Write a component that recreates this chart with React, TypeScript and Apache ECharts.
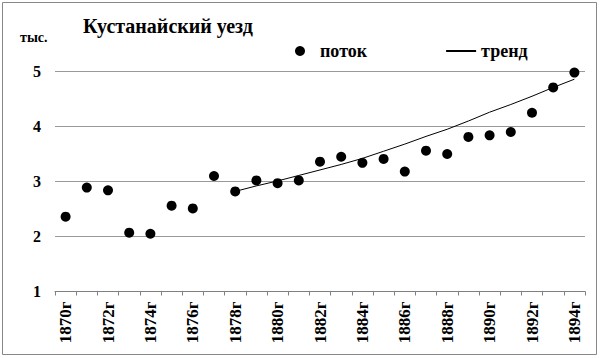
import React, { useEffect, useRef } from "react";
import * as echarts from "echarts";

const years: string[] = [
  "1870г", "1871г", "1872г", "1873г", "1874г", "1875г", "1876г", "1877г", "1878г",
  "1879г", "1880г", "1881г", "1882г", "1883г", "1884г", "1885г", "1886г", "1887г",
  "1888г", "1889г", "1890г", "1891г", "1892г", "1893г", "1894г",
];
const flow: number[] = [
  2.36, 2.89, 2.84, 2.07, 2.05, 2.56, 2.51, 3.1, 2.82, 3.02, 2.97, 3.02, 3.36,
  3.45, 3.34, 3.41, 3.18, 3.56, 3.5, 3.81, 3.84, 3.9, 4.25, 4.71, 4.98,
];
const trend: (number | null)[] = [
  null, null, null, null, null, null, null, null,
  2.82, 2.92, 3.01, 3.11, 3.21, 3.31, 3.42, 3.55, 3.68, 3.82, 3.95, 4.1, 4.26,
  4.4, 4.55, 4.71, 4.86,
];
const titleText = "Кустанайский уезд";
const unitText = "тыс.";

const SERIF = "Liberation Serif";

export default function App() {
  const ref = useRef<HTMLDivElement>(null);
  useEffect(() => {
    if (!ref.current) return;
    const chart = echarts.init(ref.current, null, { renderer: "svg" });
    chart.setOption({
      animation: false,
      backgroundColor: "#fff",
      textStyle: { fontFamily: SERIF },
      title: {
        text: titleText,
        left: 78,
        top: 11,
        textStyle: { fontFamily: SERIF, fontSize: 20, fontWeight: "bold", color: "#000" },
      },
      graphic: [
        {
          type: "rect",
          shape: { x: 2.5, y: 2.5, width: 594, height: 352 },
          style: { fill: "none", stroke: "#888", lineWidth: 1 },
        },
        {
          type: "text",
          left: 20,
          top: 30,
          style: { text: unitText, fontFamily: SERIF, fontSize: 14, fontWeight: "bold", fill: "#000" },
        },
      ],
      legend: {
        left: 290,
        top: 37,
        itemGap: 78,
        itemWidth: 30,
        itemHeight: 10,
        textStyle: { fontFamily: SERIF, fontSize: 18, fontWeight: "bold", color: "#000" },
        data: [
          { name: "поток", icon: "circle", itemStyle: { color: "#000", opacity: 1 } },
          { name: "тренд", itemStyle: { opacity: 0 } },
        ],
      },
      grid: { left: 55, right: 15, top: 71.5, bottom: 66.5, containLabel: false },
      xAxis: {
        type: "category",
        data: years,
        boundaryGap: true,
        axisLine: { lineStyle: { color: "#808080", width: 1 } },
        axisTick: { show: true, alignWithLabel: false, interval: 0, length: 4, lineStyle: { color: "#808080" } },
        axisLabel: {
          interval: 1,
          rotate: 90,
          margin: 10,
          fontFamily: SERIF,
          fontSize: 17,
          fontWeight: "bold",
          color: "#000",
        },
      },
      yAxis: {
        type: "value",
        min: 1,
        max: 5,
        interval: 1,
        axisLine: { show: false },
        axisTick: { show: false },
        axisLabel: { margin: 14, fontFamily: SERIF, fontSize: 16, fontWeight: "bold", color: "#000" },
        splitLine: { lineStyle: { color: "#999", width: 1 } },
      },
      series: [
        {
          name: "поток",
          type: "scatter",
          data: flow,
          symbol: "circle",
          symbolSize: 10,
          itemStyle: { color: "#000", opacity: 1 },
        },
        {
          name: "тренд",
          type: "line",
          data: trend,
          symbol: "none",
          smooth: false,
          lineStyle: { color: "#000", width: 1 },
          itemStyle: { color: "#000" },
        },
      ],
    });
    return () => chart.dispose();
  }, []);
  return (
    <div
      ref={ref}
      style={{ position: "fixed", left: 0, top: 0, width: 600, height: 358 }}
    />
  );
}
